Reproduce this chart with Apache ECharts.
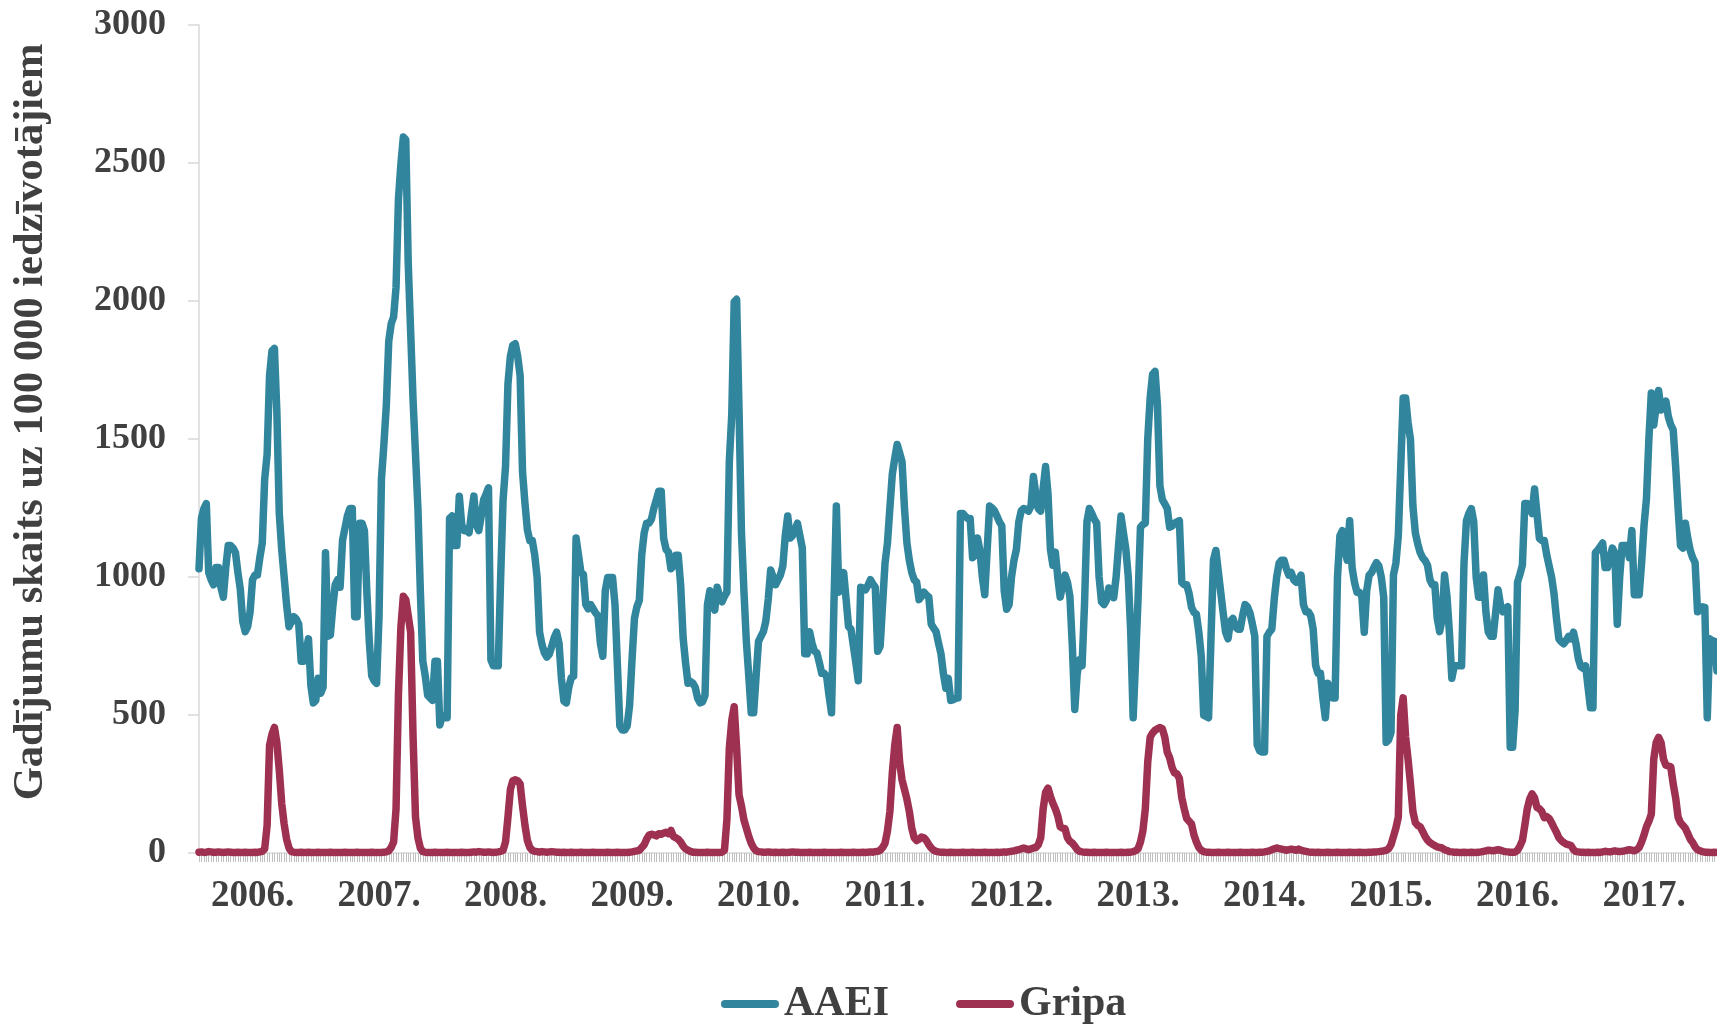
<!DOCTYPE html>
<html>
<head>
<meta charset="utf-8">
<script src="https://cdn.jsdelivr.net/npm/echarts@6/dist/echarts.min.js"></script>
<style>
html,body{margin:0;padding:0;background:#fff;}
#chart{width:1717px;height:1024px;}
</style>
</head>
<body>
<div id="chart"></div>
<script>
// ---- data (weekly, 2005 week 31 ... 2017 week 30) ----
const startYear = 2005;
const startWeek = 31;
const weeksPerYear = 52;
const yearLabels = ['2006.','2007.','2008.','2009.','2010.','2011.','2012.','2013.','2014.','2015.','2016.','2017.'];
const yTicks = [0, 500, 1000, 1500, 2000, 2500, 3000];
const seriesNames = ['AAEI', 'Gripa'];

const aaei = [
1030,1212,1248,1266,1016,990,972,1034,1034,963,
927,1034,1114,1114,1105,1088,1016,954,838,802,
820,874,990,1007,1007,1070,1123,1355,1444,1730,
1819,1828,1600,1230,1100,1000,900,820,838,856,
847,829,695,695,731,776,606,544,553,633,
579,600,1088,785,790,892,972,990,963,1132,
1177,1221,1248,1248,856,856,1195,1195,1168,945,
767,642,624,615,856,1355,1480,1622,1854,1917,
1943,2050,2371,2496,2594,2585,2140,1890,1640,1444,
1248,945,695,642,571,562,553,695,695,464,
499,490,490,1212,1221,1114,1114,1293,1190,1168,
1168,1160,1230,1293,1190,1168,1220,1280,1300,1323,
700,678,678,678,1000,1280,1400,1700,1800,1840,
1845,1800,1730,1380,1266,1170,1132,1132,1080,998,
800,755,725,710,720,749,780,800,760,630,
550,544,600,635,640,1141,1080,1016,1010,900,
885,900,885,870,860,760,713,950,998,998,
998,900,680,460,446,446,460,535,700,850,
892,915,1080,1160,1195,1195,1210,1250,1280,1311,
1311,1140,1100,1090,1030,1040,1079,1079,970,780,
690,615,622,615,600,560,544,548,571,900,
950,900,880,963,930,910,930,945,1420,1587,
1997,2006,1600,1159,950,767,640,508,508,640,
767,785,802,840,920,1025,1000,972,990,1007,
1040,1150,1221,1141,1150,1170,1195,1150,1105,722,
722,802,760,731,725,690,651,651,640,570,
508,900,1257,945,980,1016,920,820,811,750,
690,624,963,960,954,970,990,975,963,731,
749,900,1050,1123,1250,1373,1430,1480,1450,1418,
1250,1123,1060,1016,990,981,918,930,945,935,
927,829,815,802,760,722,650,597,633,553,
555,560,562,1230,1230,1220,1212,1212,1070,1079,
1141,1096,1000,936,1100,1257,1250,1240,1221,1200,
1186,950,883,900,1000,1060,1100,1200,1240,1248,
1245,1239,1257,1364,1300,1248,1239,1320,1400,1300,
1100,1043,1090,1000,927,970,1007,980,930,750,
520,650,700,678,900,1200,1248,1230,1210,1195,
1000,910,900,915,960,950,925,1000,1114,1221,
1160,1100,1000,800,490,700,918,1180,1190,1195,
1500,1650,1735,1745,1620,1330,1280,1265,1248,1180,
1185,1195,1200,1204,980,972,972,940,890,872,
865,800,713,499,495,490,780,1061,1096,1020,
945,870,800,776,840,850,820,811,811,860,
900,892,870,830,785,392,370,366,366,785,
800,811,920,1000,1050,1061,1061,1030,1007,1016,
990,981,990,1007,900,874,874,860,811,680,
651,651,560,490,615,590,562,562,1000,1150,
1168,1100,1061,1204,1034,980,945,945,930,800,
950,1007,1016,1035,1052,1040,1000,927,401,410,
437,1007,1050,1150,1400,1649,1649,1560,1498,1257,
1160,1120,1088,1070,1060,1043,990,972,972,850,
802,847,1007,930,800,633,678,678,678,678,
1050,1204,1230,1248,1200,1000,927,927,1007,874,
800,785,785,870,954,900,874,885,892,383,
383,517,981,1010,1043,1266,1266,1250,1230,1319,
1230,1140,1132,1132,1080,1040,1000,940,850,776,
765,758,770,785,776,800,760,704,675,669,
678,600,526,526,1088,1097,1110,1123,1034,1034,
1070,1105,1088,829,1000,1114,1114,1114,1070,1168,
936,936,936,1050,1186,1284,1500,1667,1551,1620,
1676,1605,1620,1637,1580,1551,1533,1400,1250,1114,
1105,1195,1140,1096,1070,1052,874,880,892,890,
490,776,770,767,660
];

const gripa = [
3,4,2,3,5,4,2,3,4,3,2,3,4,3,2,2,3,2,2,3,2,2,2,3,2,4,6,
15,100,390,430,455,400,300,180,105,50,18,5,
3,2,2,3,2,2,3,2,2,2, 3,2,2,2,2,3,2,2,2,2, 2,3,2,2,2,2,3,2,2,2, 2,2,3,2,2,2,2,3,4,8,
20,40,160,580,820,930,918,860,800,420,130,55,18,5,
3,2,2,2,3,2,2,2,2,3, 2,2,2,2,2,3,2,2,2,3, 4,3,5,4,3,3,4,3,2,3, 4,6,
10,40,130,230,262,265,262,250,170,100,45,20,10,6,5,3,
5,4,3,4,5,4,3,3,2,3, 2,2,3,2,2,2,3,2,2,2, 2,3,2,2,2,2,2,3,2,2, 2,3,2,2,2,2,3,4,6,8,
10,20,30,50,65,68,66,62,70,68,72,75,70,82,60,55,50,40,25,15,10,6,3,
3,2,2,2,2,3,2,2,2,2,2,3,
10,120,380,480,530,380,210,170,120,90,60,35,18,8,5,
4,3,3,4,3,2,3,2,2,3, 2,2,3,4,3,3,2,2,2,2, 3,2,2,2,2,2,3,2,2,2, 2,2,2,3,2,2,2,2,3,2, 2,2,3,2,3,4,3,5,6,
10,20,35,80,150,290,390,455,330,265,230,195,150,90,55,45,50,58,55,45,30,18,10,6,4,
3,3,2,2,3,2,2,2,2,3, 2,2,2,3,2,2,2,2,3,2, 2,2,2,3,2,3,4,3,5,6, 8,10,12,
15,18,15,12,15,18,20,30,55,160,220,235,205,180,160,135,95,90,88,55,42,36,25,12,6,
4,3,3,2,2,3,2,2,2,2, 3,2,2,2,2,2,3,2,2,3, 3,5,8,
15,40,80,160,330,420,435,445,450,455,450,420,366,345,310,290,287,270,200,160,125,115,105,65,40,20,10,5,
3,3,2,2,2,3,2,2,2,3, 2,2,2,2,3,2,2,2,2,3, 2,2,3,3,4,6,
8,12,15,18,16,14,12,10,12,14,12,10,14,10,8,6,
4,3,3,2,3,2,2,2,3,2, 2,2,3,2,2,2,2,3,2,2, 2,3,2,2,2,3,3,4,4,5, 6,8,
10,15,30,60,90,130,500,562,420,340,250,150,110,100,95,78,60,47,38,32,27,22,20,18,12,9,5,
4,3,3,2,2,3,2,2,3,2, 2,3,4,6,8,10,9,8,10,12, 10,7,5,4,3,3,
3,10,25,45,100,160,195,214,200,165,160,150,128,132,125,110,92,75,55,45,38,32,30,27,12,5,
4,3,3,2,3,2,2,2,3,2, 4,6,5,4,6,8,6,5,6,8, 10,12,10,
8,12,20,40,65,95,115,140,340,400,419,400,340,318,315,312,250,200,130,110,100,89,70,50,38,22,12,8,5,3,3,
2,2,3,2
];

// category names: year-week
const categories = [];
const weekOf = [];
{
  let y = startYear, w = startWeek;
  for (let i = 0; i < aaei.length; i++) {
    categories.push(y + '-' + w);
    weekOf.push(w);
    w++;
    if (w > weeksPerYear) { w = 1; y++; }
  }
}
const labelFor = {};
yearLabels.forEach(l => { labelFor[parseInt(l, 10)] = l; });

const FONT = '"Liberation Serif", "Times New Roman", serif';
const TXT = '#404040';
const colors = ['#31859C', '#9E3152'];
const LW = 7.5;

const chart = echarts.init(document.getElementById('chart'), null, {renderer: 'canvas'});
chart.setOption({
  animation: false,
  backgroundColor: '#ffffff',
  color: colors,
  grid: {left: 199, right: 0, top: 25, bottom: 171, containLabel: false},
  legend: {
    data: seriesNames,
    left: 716,
    top: 978,
    itemGap: 67,
    itemWidth: 58,
    itemHeight: 8,
    icon: 'path://M4,0 L54,0 A4,4 0 0 1 54,8 L4,8 A4,4 0 0 1 4,0 Z',
    textStyle: {fontFamily: FONT, fontWeight: 'bold', fontSize: 42, color: TXT}
  },
  xAxis: {
    type: 'category',
    data: categories,
    boundaryGap: false,
    axisLine: {show: true, lineStyle: {color: '#D9D9D9', width: 1.5}},
    axisTick: {show: true, interval: 0, length: 9, lineStyle: {color: '#BFBFBF', width: 1}},
    axisLabel: {
      interval: function (idx) { return weekOf[idx] === 1; },
      formatter: function (v) { return labelFor[parseInt(v, 10)] || ''; },
      margin: 25,
      fontFamily: FONT, fontWeight: 'bold', fontSize: 37, color: TXT
    },
    splitLine: {show: false}
  },
  yAxis: {
    type: 'value',
    min: yTicks[0],
    max: yTicks[yTicks.length - 1],
    interval: yTicks[1] - yTicks[0],
    axisLine: {show: true, lineStyle: {color: '#D9D9D9', width: 1.5}},
    axisTick: {show: true, inside: false, length: 11, lineStyle: {color: '#D9D9D9', width: 1.5}},
    axisLabel: {
      margin: 33, fontFamily: FONT, fontWeight: 'bold', fontSize: 36, color: TXT,
      formatter: function (v) { return String(v); }
    },
    splitLine: {show: false}
  },
  graphic: [{
    type: 'text',
    x: 31, y: 422,
    rotation: Math.PI / 2,
    style: {
      text: 'Gadījumu skaits uz 100 000 iedzīvotājiem',
      fontFamily: FONT, fontWeight: 'bold', fontSize: 42.5,
      fill: TXT, align: 'center', verticalAlign: 'middle'
    }
  }],
  series: [
    {
      name: seriesNames[0], type: 'line', data: aaei,
      showSymbol: false, symbol: 'none',
      lineStyle: {width: LW, color: colors[0], cap: 'round', join: 'round'}
    },
    {
      name: seriesNames[1], type: 'line', data: gripa,
      showSymbol: false, symbol: 'none',
      lineStyle: {width: LW, color: colors[1], cap: 'round', join: 'round'}
    }
  ]
});
</script>
</body>
</html>
